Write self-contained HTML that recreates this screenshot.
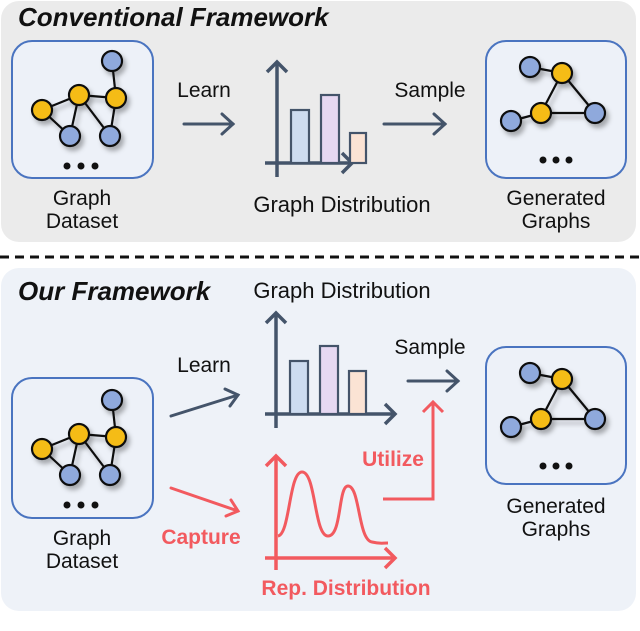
<!DOCTYPE html>
<html><head><style>
html,body{margin:0;padding:0;background:#fff;}
svg text{font-family:"Liberation Sans","DejaVu Sans",sans-serif;}
</style></head><body>
<svg width="640" height="626" viewBox="0 0 640 626" xmlns="http://www.w3.org/2000/svg">
<defs>
<filter id="sh" x="-30%" y="-30%" width="160%" height="160%"><feDropShadow dx="3" dy="4" stdDeviation="2.5" flood-color="#000" flood-opacity="0.3"/></filter>
<g id="g1" filter="url(#sh)" stroke="#111" stroke-width="2.2">
<line x1="112" y1="61" x2="116" y2="98"/><line x1="42" y1="110" x2="79" y2="95"/><line x1="79" y1="95" x2="116" y2="98"/>
<line x1="42" y1="110" x2="70" y2="136"/><line x1="79" y1="95" x2="70" y2="136"/><line x1="79" y1="95" x2="110" y2="136"/><line x1="116" y1="98" x2="110" y2="136"/>
<circle cx="112" cy="61" r="10" fill="#8fa9dc"/><circle cx="70" cy="136" r="10" fill="#8fa9dc"/><circle cx="110" cy="136" r="10" fill="#8fa9dc"/>
<circle cx="42" cy="110" r="10" fill="#f5bc14"/><circle cx="79" cy="95" r="10" fill="#f5bc14"/><circle cx="116" cy="98" r="10" fill="#f5bc14"/>
</g>
<g id="g2" filter="url(#sh)" stroke="#111" stroke-width="2.2">
<line x1="530" y1="67" x2="562" y2="73"/><line x1="562" y1="73" x2="541" y2="113"/><line x1="562" y1="73" x2="595" y2="113"/><line x1="541" y1="113" x2="595" y2="113"/><line x1="541" y1="113" x2="511" y2="121"/>
<circle cx="530" cy="67" r="10" fill="#8fa9dc"/><circle cx="595" cy="113" r="10" fill="#8fa9dc"/><circle cx="511" cy="121" r="10" fill="#8fa9dc"/>
<circle cx="562" cy="73" r="10" fill="#f5bc14"/><circle cx="541" cy="113" r="10" fill="#f5bc14"/>
</g>
<g id="dots1" fill="#111"><circle cx="67" cy="166" r="3.5"/><circle cx="81" cy="166" r="3.5"/><circle cx="95" cy="166" r="3.5"/></g>
<g id="dots2" fill="#111"><circle cx="543" cy="160" r="3.5"/><circle cx="556" cy="160" r="3.5"/><circle cx="569" cy="160" r="3.5"/></g>
</defs>
<!-- top panel -->
<rect x="1" y="1" width="635" height="241" rx="18" fill="#ebebeb"/>
<text x="18" y="26" font-size="26" font-weight="bold" font-style="italic" fill="#111">Conventional Framework</text>
<rect x="12" y="41" width="141" height="137" rx="20" fill="#edf1f8" stroke="#4a74c0" stroke-width="2"/>
<use href="#g1"/><use href="#dots1"/>
<text x="82" y="205" font-size="21" text-anchor="middle" fill="#111">Graph</text>
<text x="82" y="228" font-size="21" text-anchor="middle" fill="#111">Dataset</text>
<text x="204" y="97" font-size="21" text-anchor="middle" fill="#111">Learn</text>
<g stroke="#44546a" stroke-width="3" fill="none" stroke-linecap="round">
<line x1="184" y1="124" x2="233" y2="124"/><polyline points="222,114 233,124 222,134"/>
</g>
<g stroke="#44546a" stroke-width="3.5" fill="none">
<line x1="277" y1="62" x2="277" y2="177"/><polyline points="267,72 277,62 287,72"/>
<line x1="265" y1="163" x2="352" y2="163"/><polyline points="342,153 352,163 342,173"/>
</g>
<g stroke="#44546a" stroke-width="2.2">
<rect x="291" y="110" width="18" height="53" fill="#cddcf0"/>
<rect x="321" y="95" width="18" height="68" fill="#e6d8f2"/>
<rect x="350" y="133" width="16" height="30" fill="#fbe3d4"/>
</g>
<text x="342" y="212" font-size="22" text-anchor="middle" fill="#111">Graph Distribution</text>
<text x="430" y="97" font-size="21" text-anchor="middle" fill="#111">Sample</text>
<g stroke="#44546a" stroke-width="3" fill="none" stroke-linecap="round">
<line x1="384" y1="124" x2="445" y2="124"/><polyline points="434,114 445,124 434,134"/>
</g>
<rect x="486" y="41" width="140" height="137" rx="20" fill="#edf1f8" stroke="#4a74c0" stroke-width="2"/>
<use href="#g2"/><use href="#dots2"/>
<text x="556" y="205" font-size="21" text-anchor="middle" fill="#111">Generated</text>
<text x="556" y="228" font-size="21" text-anchor="middle" fill="#111">Graphs</text>
<!-- dashed -->
<line x1="0" y1="257" x2="640" y2="257" stroke="#111" stroke-width="3" stroke-dasharray="9,6"/>
<!-- bottom panel -->
<rect x="1" y="268" width="635" height="343" rx="18" fill="#eef2f8"/>
<text x="18" y="300" font-size="26" font-weight="bold" font-style="italic" fill="#111">Our Framework</text>
<rect x="12" y="378" width="141" height="140" rx="20" fill="#edf1f8" stroke="#4a74c0" stroke-width="2"/>
<g transform="translate(0,339)"><use href="#g1"/></g>
<g transform="translate(0,339)"><use href="#dots1"/></g>
<text x="82" y="545" font-size="21" text-anchor="middle" fill="#111">Graph</text>
<text x="82" y="568" font-size="21" text-anchor="middle" fill="#111">Dataset</text>
<text x="204" y="372" font-size="21" text-anchor="middle" fill="#111">Learn</text>
<g stroke="#44546a" stroke-width="3" fill="none" stroke-linecap="round">
<line x1="171" y1="416" x2="238" y2="395"/><polyline points="225,389 238,395 230,406"/>
</g>
<g stroke="#f25a5f" stroke-width="3" fill="none" stroke-linecap="round">
<line x1="171" y1="488" x2="238" y2="511"/><polyline points="231,500 238,511 226,516"/>
</g>
<text x="201" y="544" font-size="21" font-weight="bold" text-anchor="middle" fill="#f25a5f">Capture</text>
<text x="342" y="298" font-size="22" text-anchor="middle" fill="#111">Graph Distribution</text>
<g stroke="#44546a" stroke-width="3.5" fill="none">
<line x1="276" y1="313" x2="276" y2="428"/><polyline points="266,323 276,313 286,323"/>
<line x1="265" y1="414" x2="395" y2="414"/><polyline points="385,404 395,414 385,424"/>
</g>
<g stroke="#44546a" stroke-width="2.2">
<rect x="290" y="361" width="18" height="53" fill="#cddcf0"/>
<rect x="320" y="346" width="18" height="68" fill="#e6d8f2"/>
<rect x="349" y="371" width="17" height="43" fill="#fbe3d4"/>
</g>
<text x="430" y="354" font-size="21" text-anchor="middle" fill="#111">Sample</text>
<g stroke="#44546a" stroke-width="3" fill="none" stroke-linecap="round">
<line x1="408" y1="381" x2="458" y2="381"/><polyline points="447,371 458,381 447,391"/>
</g>
<g stroke="#f25a5f" stroke-width="3.5" fill="none">
<line x1="276" y1="456" x2="276" y2="570"/><polyline points="266,466 276,456 286,466"/>
<line x1="265" y1="558" x2="395" y2="558"/><polyline points="385,548 395,558 385,568"/>
<path d="M278,536 C290,534 289,472 302,472 C316,472 314,536 328,536 C342,536 338,486 348,486 C360,486 358,540 372,542 C380,544 382,543 388,543" stroke-width="3"/>
<polyline points="383,499 433,499 433,402" stroke-width="3"/><polyline points="423,412 433,402 443,412" stroke-width="3"/>
</g>
<text x="393" y="466" font-size="21" font-weight="bold" text-anchor="middle" fill="#f25a5f">Utilize</text>
<text x="346" y="595" font-size="21" font-weight="bold" text-anchor="middle" fill="#f25a5f">Rep. Distribution</text>
<rect x="486" y="347" width="140" height="137" rx="20" fill="#edf1f8" stroke="#4a74c0" stroke-width="2"/>
<g transform="translate(0,306)"><use href="#g2"/></g>
<g transform="translate(0,306)"><use href="#dots2"/></g>
<text x="556" y="513" font-size="21" text-anchor="middle" fill="#111">Generated</text>
<text x="556" y="536" font-size="21" text-anchor="middle" fill="#111">Graphs</text>
<text x="0" y="642" font-size="22" fill="#333" font-family="Liberation Serif">Figure 1: The comparison between the conventional framework</text>
</svg>
</body></html>
